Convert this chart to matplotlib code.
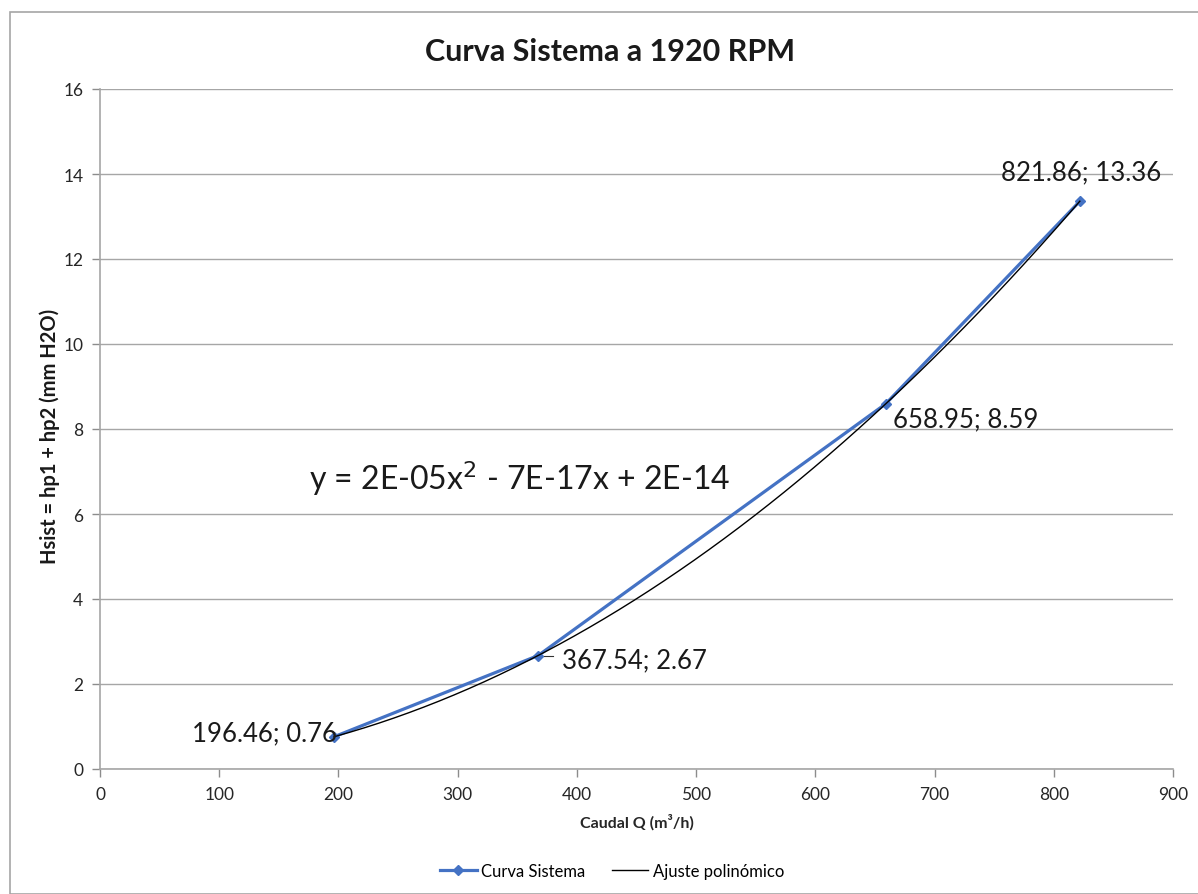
import numpy as np
import matplotlib
matplotlib.use("Agg")
import matplotlib.pyplot as plt
from matplotlib.patches import Rectangle

plt.rcParams["font.family"] = ["Lato", "DejaVu Sans"]

# datos de la curva del sistema
caudal = [196.46, 367.54, 658.95, 821.86]
hsist = [0.76, 2.67, 8.59, 13.36]
etiquetas = ["196.46; 0.76", "367.54; 2.67", "658.95; 8.59", "821.86; 13.36"]
x_ticks = [0, 100, 200, 300, 400, 500, 600, 700, 800, 900]
y_ticks = [0, 2, 4, 6, 8, 10, 12, 14, 16]

W, H = 1198, 895
fig = plt.figure(figsize=(W / 100, H / 100), dpi=100)
ax = fig.add_axes([100 / W, 1 - 770 / H, 1073 / W, 680 / H])

# marco exterior del grafico
fig.patches.append(Rectangle((10 / W, 0), 1.2, 1 - 13 / H, transform=fig.transFigure,
                             fill=False, edgecolor="#a6a6a6", linewidth=1.2))

blue = "#4472C4"
ax.plot(caudal, hsist, color=blue, linewidth=2.3, marker="D", markersize=5,
        label="Curva Sistema", zorder=3)

# ajuste polinomico de 2o grado (como la linea de tendencia de Excel)
coef = np.polyfit(caudal, hsist, 2)
xs = np.linspace(min(caudal), max(caudal), 200)
ax.plot(xs, np.polyval(coef, xs), color="black", linewidth=1.0,
        label="Ajuste polinómico", zorder=4)

# etiquetas de datos
offsets = [(2, 3, "right", "center"), (17, -3, "left", "center"),
           (5, -11, "left", "center"), (1, 21, "center", "center")]
for x, y, t, (dx, dy, ha, va) in zip(caudal, hsist, etiquetas, offsets):
    ax.annotate(t, (x, y), xytext=(dx, dy), textcoords="offset points",
                ha=ha, va=va, fontsize=18.5, color="#1a1a1a", zorder=5)
ax.plot([368, 380], [2.67, 2.67], color="#333333", linewidth=0.8)

ax.text(352, 6.85, "y = 2E-05x$^{2}$ - 7E-17x + 2E-14", fontsize=23,
        ha="center", va="center", color="#1a1a1a")

ax.set_xlim(0, 900)
ax.set_ylim(0, 16)
ax.set_xticks(x_ticks)
ax.set_yticks(y_ticks)
ax.tick_params(axis="both", labelsize=12.5, colors="#8c8c8c", labelcolor="#262626",
               length=6, width=1.0, direction="out", pad=6)
ax.grid(True, axis="y", color="#a6a6a6", linewidth=1.0)
ax.set_axisbelow(True)
for s in ["top", "right"]:
    ax.spines[s].set_visible(False)
for s in ["left", "bottom"]:
    ax.spines[s].set_color("#a6a6a6")
    ax.spines[s].set_linewidth(1.2)

fig.text(610 / W, 1 - 52 / H, "Curva Sistema a 1920 RPM", fontsize=22,
         fontweight="bold", ha="center", va="center", color="#1a1a1a")
ax.set_xlabel("Caudal Q (m³/h)", fontsize=11.5, fontweight="bold", labelpad=8,
              color="#262626")
fig.text(50 / W, 1 - 436 / H, "Hsist = hp1 + hp2 (mm H2O)", fontsize=14.5,
         fontweight="bold", rotation=90, ha="center", va="center", color="#1a1a1a")

leg = fig.legend(loc="center", bbox_to_anchor=(612 / W, 1 - 872 / H), ncol=2,
                 frameon=False, fontsize=12, handlelength=2.2, handletextpad=0.25,
                 columnspacing=1.6)

fig.savefig("out.png", dpi=100)
